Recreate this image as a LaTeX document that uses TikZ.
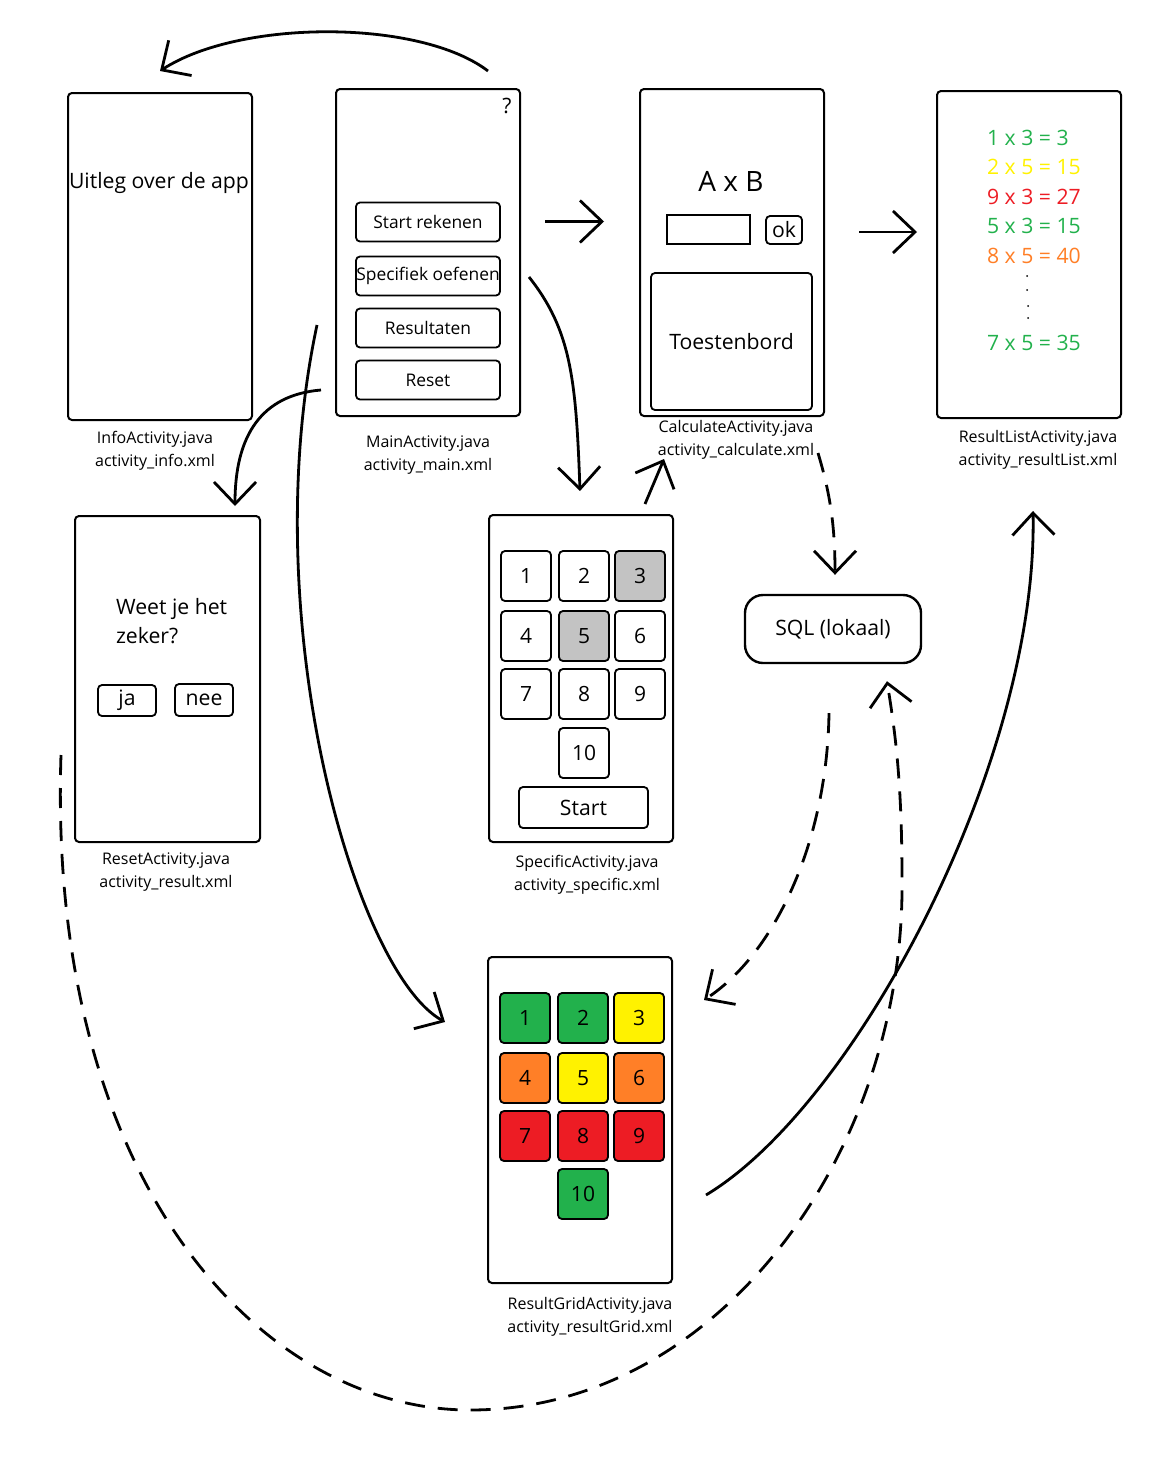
\documentclass[tikz,border=0pt]{standalone}
\usepackage{fontspec}
\setmainfont{Open Sans}
\usetikzlibrary{arrows.meta}

\definecolor{paintgreen}{RGB}{34,177,76}
\definecolor{paintyellow}{RGB}{255,242,0}
\definecolor{paintred}{RGB}{237,28,36}
\definecolor{paintorange}{RGB}{255,127,39}
\definecolor{paintgray}{RGB}{195,195,195}

\begin{document}
\begin{tikzpicture}[x=0.5pt,y=-0.5pt,
  phone/.style={draw,line width=1pt,rounded corners=2pt,inner sep=0pt,minimum width=92pt,minimum height=163.5pt},
  btn/.style={draw,line width=0.9pt,rounded corners=2pt,inner sep=0pt,font=\fontsize{8.7}{10}\selectfont},
  key/.style={btn,minimum width=25pt,minimum height=25pt,font=\fontsize{10.5}{12}\selectfont},
  caption/.style={align=center,font=\fontsize{8}{11.5}\selectfont},
  big/.style={font=\fontsize{10.6}{14.5}\selectfont},
  flow/.style={line width=1.4pt,-{Straight Barb[length=11pt,width=21pt]}},
  dbflow/.style={flow,dash pattern=on 10pt off 6.5pt}]
\useasboundingbox (0,0) rectangle (1172,1472);

% screens
\node[phone] at (160,256.5)	(info) {};
\node[phone] at (428,252.5)	(main) {};
\node[phone] at (732,252.5)	(calc) {};
\node[phone] at (1029,254.5)	(list) {};
\node[phone,minimum width=92.5pt,minimum height=163pt] at (167.5,679) (reset) {};
\node[phone] at (581,678.5)	(spec) {};
\node[phone,minimum height=163pt] at (580,1120) (grid) {};

% captions
\node[caption] at (155,450.5)	(infolbl) {InfoActivity.java\\activity\_info.xml};
\node[caption] at (428,455.5)	(mainlbl) {MainActivity.java\\activity\_main.xml};
\node[caption] at (736,439.5)	(calclbl) {CalculateActivity.java\\activity\_calculate.xml};
\node[caption] at (1038,449.5)	(listlbl) {ResultListActivity.java\\activity\_resultList.xml};
\node[caption] at (166,872.5)	(resetlbl) {ResetActivity.java\\activity\_result.xml};
\node[caption] at (587,874.5)	(speclbl) {SpecificActivity.java\\activity\_specific.xml};
\node[caption] at (590,1316.5)	(gridlbl) {ResultGridActivity.java\\activity\_resultGrid.xml};

% info
\node[big] at (159,183)	(uitleg) {Uitleg over de app};

% main
\node[big] at (507,106)	(help) {?};
\node[btn,minimum width=72pt,minimum height=19.5pt] at (428,222)	(start) {Start rekenen};
\node[btn,minimum width=72pt,minimum height=19.5pt] at (428,276)	(specifiek) {Specifiek oefenen};
\node[btn,minimum width=72pt,minimum height=19.5pt] at (428,328)	(results) {Resultaten};
\node[btn,minimum width=72pt,minimum height=19.5pt] at (428,380)	(resetbtn) {Reset};

% calculate
\node[font=\fontsize{14}{16}\selectfont] at (731,181)	(sum) {A x B};
\node[draw,line width=0.9pt,inner sep=0pt,minimum width=41.5pt,minimum height=14.5pt] at (708.5,229.5) (answer) {};
\node[btn,big,minimum width=18pt,minimum height=14pt] at (784,230)	(ok) {ok};
\node[btn,big,minimum width=80.5pt,minimum height=68.5pt] at (731.5,341.5) (keyboard) {Toestenbord};

% result list
\node[big,anchor=west,text=paintgreen] at (980,138)	(r1) {1 x 3 = 3};
\node[big,anchor=west,text=paintyellow] at (980,167)	(r2) {2 x 5 = 15};
\node[big,anchor=west,text=paintred] at (980,197)	(r3) {9 x 3 = 27};
\node[big,anchor=west,text=paintgreen] at (980,226)	(r4) {5 x 3 = 15};
\node[big,anchor=west,text=paintorange] at (980,256)	(r5) {8 x 5 = 40};
\node[big,anchor=west,text=paintgreen] at (980,343)	(r6) {7 x 5 = 35};
\fill (1027,276) circle (0.5pt) (1027,290) circle (0.5pt) (1028,306) circle (0.5pt) (1028,318) circle (0.5pt);

% reset
\node[big,align=left,anchor=west] at (109,621.5)	(vraag) {Weet je het\\zeker?};
\node[btn,big,minimum width=29pt,minimum height=15.5pt] at (127,700.5)	(ja) {ja};
\node[btn,big,minimum width=29pt,minimum height=16pt] at (204,700)	(nee) {nee};

% specific
\node[key] at (526,576)	(s1) {1};
\node[key] at (584,576)	(s2) {2};
\node[key,fill=paintgray] at (640,576)	(s3) {3};
\node[key] at (526,636)	(s4) {4};
\node[key,fill=paintgray] at (584,636)	(s5) {5};
\node[key] at (640,636)	(s6) {6};
\node[key] at (526,694)	(s7) {7};
\node[key] at (584,694)	(s8) {8};
\node[key] at (640,694)	(s9) {9};
\node[key] at (584,753)	(s10) {10};
\node[btn,big,minimum width=64.5pt,minimum height=20.5pt] at (583.5,807.5) (startbtn) {Start};

% result grid
\node[key,fill=paintgreen] at (525,1018)	(g1) {1};
\node[key,fill=paintgreen] at (583,1018)	(g2) {2};
\node[key,fill=paintyellow] at (639,1018)	(g3) {3};
\node[key,fill=paintorange] at (525,1078)	(g4) {4};
\node[key,fill=paintyellow] at (583,1078)	(g5) {5};
\node[key,fill=paintorange] at (639,1078)	(g6) {6};
\node[key,fill=paintred] at (525,1136)	(g7) {7};
\node[key,fill=paintred] at (583,1136)	(g8) {8};
\node[key,fill=paintred] at (639,1136)	(g9) {9};
\node[key,fill=paintgreen] at (583,1194)	(g10) {10};

% database
\node[draw,big,line width=1.2pt,rounded corners=9pt,minimum width=88pt,minimum height=34pt] at (833,629) (sql) {SQL (lokaal)};
\coordinate (loopbottom) at (470,1410);

% flows
\draw[flow] ([shift={(60,-17)}]main.north) .. controls +(-68,-52) and +(80,-52) .. ([shift={(0,-21)}]info.north);
\draw[flow] ([shift={(24,-31)}]main.east) -- ([shift={(-35,-31)}]calc.west);
\draw[flow] ([shift={(34,-20.5)}]calc.east) -- ([shift={(-19,-22.5)}]list.west);
\draw[flow] ([shift={(8,24.5)}]main.east) .. controls +(42,53) and +(-4,-112) .. ([shift={(-1,-23)}]spec.north);
\draw[flow] ([shift={(64,-10)}]spec.north) -- ([shift={(-68,42)}]calc.south);
\draw[flow] ([shift={(-14,137.5)}]main.west) .. controls +(-60,5) and +(0,-70) .. ([shift={(67.5,-9)}]reset.north);
\draw[flow] ([shift={(-18,72.5)}]main.west) .. controls +(-63,295) and +(-90,-50) .. ([shift={(-42,-98)}]grid.west);
\draw[flow] ([shift={(33,75)}]grid.east) .. controls +(150,-90) and +(5,250) .. ([shift={(4,92)}]list.south);
\draw[dbflow] ([shift={(86,36)}]calc.south) .. controls +(12,40) and +(0,-50) .. ([shift={(2,-19)}]sql.north);
\draw[dbflow] ([shift={(-4,49)}]sql.south) .. controls +(-2,130) and +(70,-46) .. ([shift={(31,-120)}]grid.east);
\draw[dbflow] ([shift={(-13,76)}]reset.west) .. controls +(-14,425) and +(-210,0) .. (loopbottom)
  .. controls +(250,0) and +(3,270) .. (902,880) .. controls +(0,-100) and +(8,50) .. ([shift={(54,17)}]sql.south);
\end{tikzpicture}
\end{document}
